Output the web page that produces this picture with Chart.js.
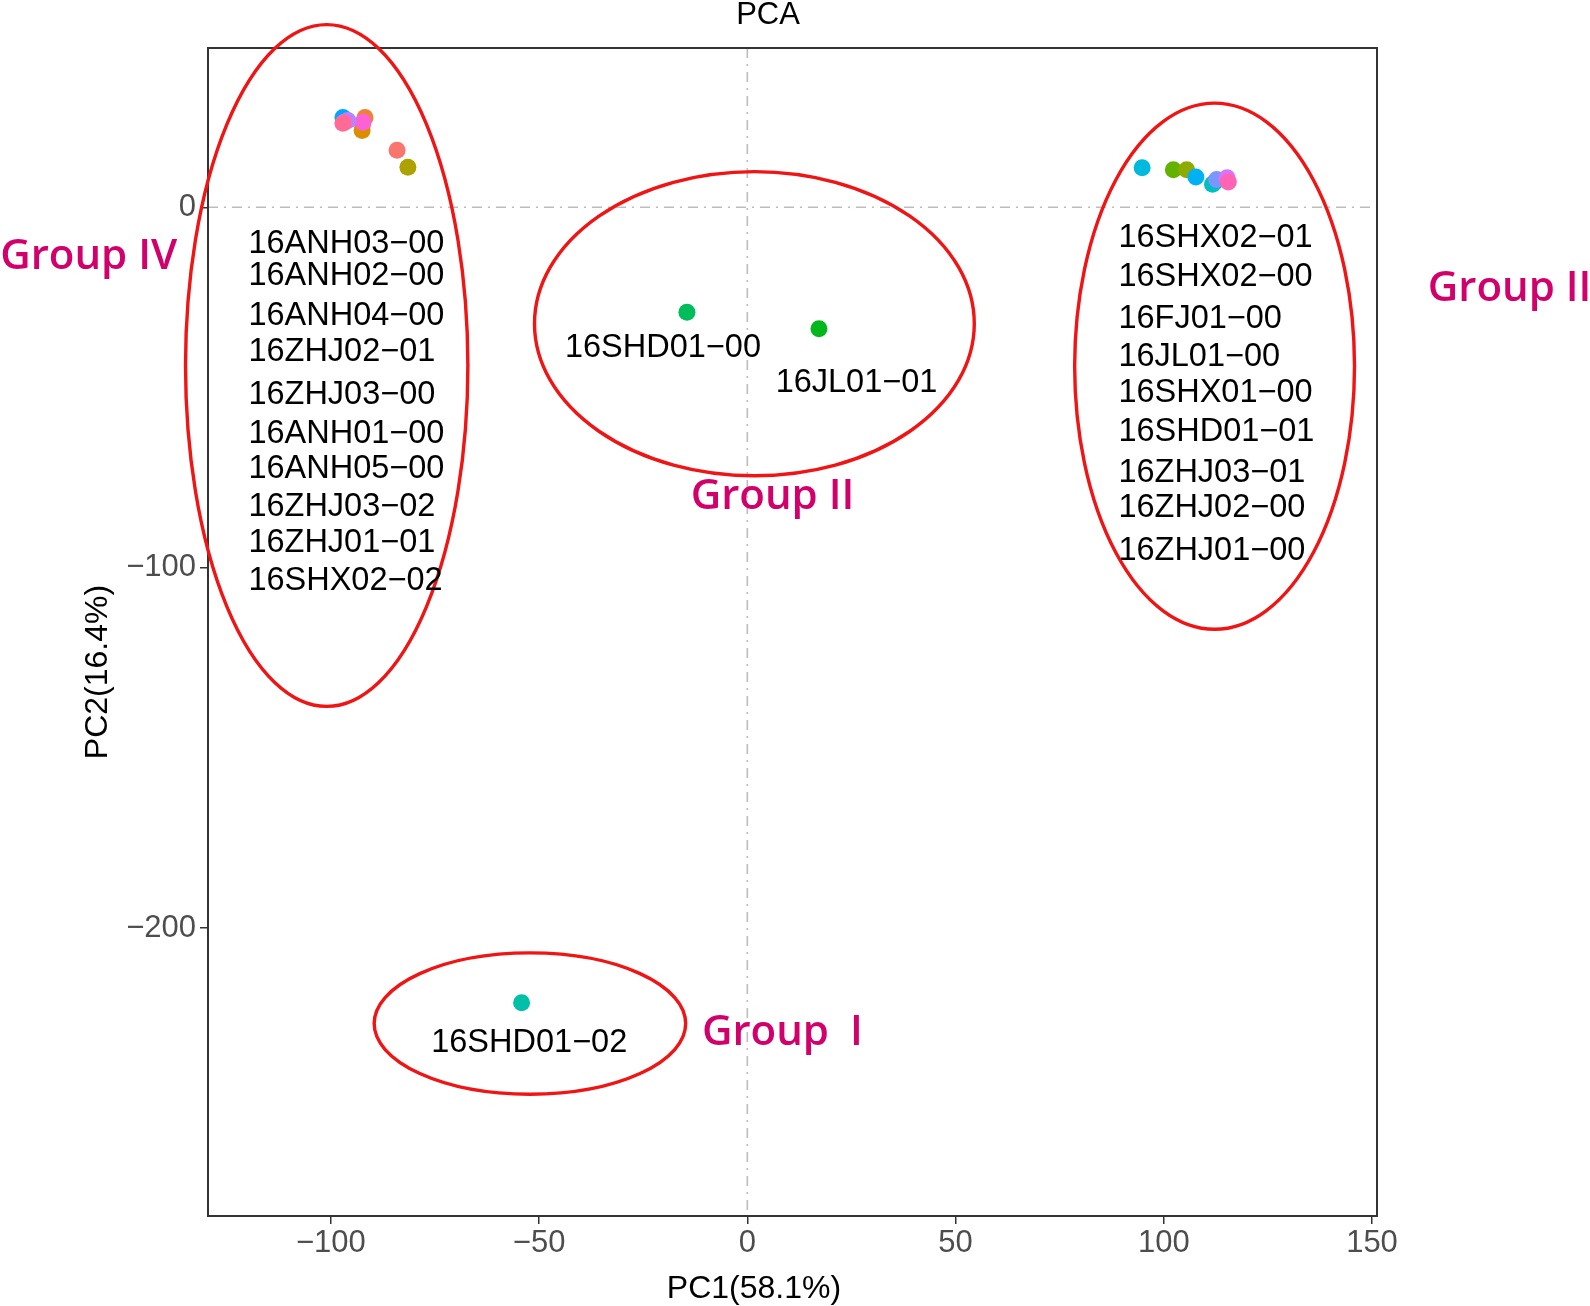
<!DOCTYPE html>
<html>
<head>
<meta charset="utf-8">
<script src="https://cdn.jsdelivr.net/npm/chart.js@4.4.0/dist/chart.umd.min.js"></script>
<style>
html, body { margin: 0; padding: 0; background: #fff; }
#wrap { width: 1590px; height: 1306px; }
</style>
</head>
<body>
<div id="wrap"><canvas id="pca" width="1590" height="1306"></canvas></div>
<script>
// samples, in drawing order (later ones sit on top)
var samples = [
	"16ANH04-00", "16ANH03-00", "16ANH02-00", "16ZHJ03-00", "16SHX02-02",
	"16ZHJ01-01", "16ZHJ02-01", "16ZHJ03-02", "16ANH01-00", "16ANH05-00",
	"16SHX02-00", "16JL01-00", "16FJ01-00", "16SHX02-01", "16SHD01-01",
	"16SHX01-00", "16ZHJ01-00", "16ZHJ02-00", "16ZHJ03-01",
	"16SHD01-00", "16JL01-01", "16SHD01-02"
];
var pc1 = [-92.4, -92.5, -91.8, -92.3, -97.1, -95.9, -96.8, -97.1, -84.1, -81.5,
	94.8, 102.3, 105.5, 107.7, 112.3, 111.7, 112.7, 115.2, 115.5,
	-14.5, 17.2, -54.2];
var pc2 = [23.0, 21.3, 24.9, 23.6, 24.9, 24.1, 23.6, 23.3, 15.8, 11.1,
	11.0, 10.4, 10.4, 8.4, 7.0, 6.4, 7.7, 8.2, 7.0,
	-29.1, -33.7, -220.7];

var xTicks = [-100, -50, 0, 50, 100, 150];
var yTicks = [-200, -100, 0];

// red ellipses round each group (data units)
var groupNames = ["Group\u2002I", "Group II", "Group III", "Group IV"];
var groupCx = [-52.2, 1.7, 112.2, -101.0];
var groupCy = [-226.5, -32.3, -44.1, -43.9];
var groupRx = [37.4, 52.8, 33.6, 33.9];
var groupRy = [19.6, 42.2, 73.0, 94.6];
var groupTextX = [-10.9, -13.6, 163.4, -179.4];
var groupTextY = [-229.0, -80.4, -22.8, -13.8];

// sample name lists written beside the groups
var labelText = [
	"16ANH03\u221200", "16ANH02\u221200", "16ANH04\u221200", "16ZHJ02\u221201", "16ZHJ03\u221200",
	"16ANH01\u221200", "16ANH05\u221200", "16ZHJ03\u221202", "16ZHJ01\u221201", "16SHX02\u221202",
	"16SHX02\u221201", "16SHX02\u221200", "16FJ01\u221200", "16JL01\u221200", "16SHX01\u221200",
	"16SHD01\u221201", "16ZHJ03\u221201", "16ZHJ02\u221200", "16ZHJ01\u221200",
	"16SHD01\u221200", "16JL01\u221201", "16SHD01\u221202"
];
var labelX = [-119.8, -119.8, -119.8, -119.8, -119.8, -119.8, -119.8, -119.8, -119.8, -119.8,
	89.1, 89.1, 89.1, 89.1, 89.1, 89.1, 89.1, 89.1, 89.1,
	-43.8, 6.8, -75.9];
var labelY = [-10.1, -19.1, -30.1, -40.2, -52.0, -63.0, -72.6, -83.2, -93.1, -103.8,
	-8.4, -19.4, -30.9, -41.6, -51.5, -62.4, -73.7, -83.5, -95.3,
	-39.1, -48.9, -232.0];

// ggplot default hue palette (hcl, l=65, c=100)
function hcl(h) {
	var L = 65, C = 100;
	var hr = h * Math.PI / 180;
	var u = C * Math.cos(hr), v = C * Math.sin(hr);
	var Xn = 95.047, Yn = 100, Zn = 108.883;
	var d = Xn + 15 * Yn + 3 * Zn;
	var un = 4 * Xn / d, vn = 9 * Yn / d;
	var Y = Yn * Math.pow((L + 16) / 116, 3);
	var up = u / (13 * L) + un, vp = v / (13 * L) + vn;
	var X = Y * 9 * up / (4 * vp);
	var Z = Y * (12 - 3 * up - 20 * vp) / (4 * vp);
	X /= 100; Y /= 100; Z /= 100;
	var r = 3.240479 * X - 1.537150 * Y - 0.498535 * Z;
	var g = -0.969256 * X + 1.875992 * Y + 0.041556 * Z;
	var b = 0.055648 * X - 0.204043 * Y + 1.057311 * Z;
	function gam(c) {
		c = c <= 0.0031308 ? 12.92 * c : 1.055 * Math.pow(c, 1 / 2.4) - 0.055;
		return Math.round(255 * Math.min(1, Math.max(0, c)));
	}
	return "rgb(" + gam(r) + "," + gam(g) + "," + gam(b) + ")";
}

var sorted = samples.slice().sort();
var colours = samples.map(function(s) {
	return hcl(15 + 360 / sorted.length * sorted.indexOf(s));
});

function fmt(v) {
	return v < 0 ? "\u2212" + Math.abs(v) : String(v);
}

var decor = {
	id: "decor",
	beforeDatasetsDraw: function(chart) {
		var c = chart.ctx, a = chart.chartArea;
		var xs = chart.scales.x, ys = chart.scales.y;
		c.save();
		c.strokeStyle = "#BDBDBD";
		c.lineWidth = 1.6;
		c.setLineDash([10, 6, 2, 6]);
		var x0 = xs.getPixelForValue(0), y0 = ys.getPixelForValue(0);
		c.beginPath();
		c.moveTo(x0, a.top); c.lineTo(x0, a.bottom);
		c.moveTo(a.left, y0); c.lineTo(a.right, y0);
		c.stroke();
		c.restore();
	},
	afterDraw: function(chart) {
		var c = chart.ctx, a = chart.chartArea;
		var xs = chart.scales.x, ys = chart.scales.y;
		c.save();
		// panel border
		c.strokeStyle = "#333333";
		c.lineWidth = 2;
		c.strokeRect(a.left, a.top, a.right - a.left, a.bottom - a.top);

		// ellipses
		c.strokeStyle = "#F01414";
		c.lineWidth = 3.4;
		groupNames.forEach(function(g, i) {
			var cx = xs.getPixelForValue(groupCx[i]);
			var cy = ys.getPixelForValue(groupCy[i]);
			var rx = Math.abs(xs.getPixelForValue(groupCx[i] + groupRx[i]) - cx);
			var ry = Math.abs(ys.getPixelForValue(groupCy[i] + groupRy[i]) - cy);
			c.beginPath();
			c.ellipse(cx, cy, rx, ry, 0, 0, Math.PI * 2);
			c.stroke();
		});

		// sample names
		c.fillStyle = "#000";
		c.font = "32.5px 'Liberation Sans', Arial, sans-serif";
		c.textAlign = "left";
		c.textBaseline = "middle";
		labelText.forEach(function(t, i) {
			c.fillText(t, xs.getPixelForValue(labelX[i]), ys.getPixelForValue(labelY[i]));
		});

		// group names
		c.fillStyle = "#D1006B";
		c.font = "600 42px 'Open Sans', 'Noto Sans', sans-serif";
		groupNames.forEach(function(g, i) {
			c.fillText(g, xs.getPixelForValue(groupTextX[i]), ys.getPixelForValue(groupTextY[i]));
		});

		// title and axis titles
		c.fillStyle = "#000";
		c.textAlign = "center";
		c.font = "31px 'Liberation Sans', Arial, sans-serif";
		c.fillText("PCA", 768, 15);
		c.font = "32px 'Liberation Sans', Arial, sans-serif";
		c.fillText("PC1(58.1%)", 754, 1289);
		c.translate(98, 672);
		c.rotate(-Math.PI / 2);
		c.fillText("PC2(16.4%)", 0, 0);
		c.restore();
	}
};

var tickFont = { family: "'Liberation Sans', Arial, sans-serif", size: 31 };

new Chart(document.getElementById("pca").getContext("2d"), {
	type: "scatter",
	data: {
		datasets: [{
			data: samples.map(function(s, i) { return { x: pc1[i], y: pc2[i] }; }),
			pointBackgroundColor: colours,
			pointBorderWidth: 0,
			pointRadius: 8.5,
			pointHoverRadius: 8.5
		}]
	},
	options: {
		responsive: false,
		animation: false,
		devicePixelRatio: 1,
		layout: { padding: { left: 0, right: 213, top: 48, bottom: 0 } },
		plugins: { legend: { display: false }, tooltip: { enabled: false } },
		scales: {
			x: {
				type: "linear",
				min: -129.5,
				max: 151.2,
				afterFit: function(s) { s.height = 90; },
				afterBuildTicks: function(s) { s.ticks = xTicks.map(function(v) { return { value: v }; }); },
				grid: { drawOnChartArea: false, tickLength: 8, color: "#333333", lineWidth: 1.5 },
				border: { display: false },
				ticks: { font: tickFont, color: "#4D4D4D", padding: 1, maxRotation: 0, callback: fmt }
			},
			y: {
				type: "linear",
				min: -279.9,
				max: 44.2,
				afterFit: function(s) { s.width = 208; },
				afterBuildTicks: function(s) { s.ticks = yTicks.map(function(v) { return { value: v }; }); },
				grid: { drawOnChartArea: false, tickLength: 8, color: "#333333", lineWidth: 1.5 },
				border: { display: false },
				ticks: { font: tickFont, color: "#4D4D4D", padding: 4, callback: fmt }
			}
		}
	},
	plugins: [decor]
});
</script>
</body>
</html>
